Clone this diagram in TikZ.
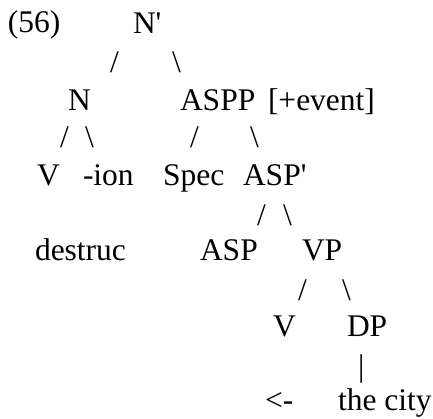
\documentclass[tikz,border=0pt]{standalone}
\usepackage{fontspec}
\setmainfont{Liberation Serif}[Ligatures=TeXOff]
\begin{document}
\begin{tikzpicture}[x=1pt,y=-1pt,
  lab/.style={anchor=base west,inner sep=0pt,outer sep=0pt,font=\fontsize{31.5}{36}\selectfont}]
\useasboundingbox (0,0) rectangle (433,418);
% row 1
\node[lab] (ex) at (8,32) {(56)};
\node[lab] (nbar) at (133,33) {N'};
\node[lab] (s1l) at (110,72) {/};
\node[lab] (s1r) at (172,72) {\textbackslash};
% row 2
\node[lab] (n) at (68,110) {N};
\node[lab] (aspp) at (180,110) {ASPP};
\node[lab] (feat) at (268,110) {[+event]};
\node[lab] (s2a) at (60,147) {/};
\node[lab] (s2b) at (85,147) {\textbackslash};
\node[lab] (s2c) at (190,147) {/};
\node[lab] (s2d) at (250,147) {\textbackslash};
% row 3
\node[lab] (v1) at (37,185) {V};
\node[lab] (ion) at (83,185) {-ion};
\node[lab] (spec) at (163,185) {Spec};
\node[lab] (aspbar) at (243,185) {ASP'};
\node[lab] (s3a) at (257,225) {/};
\node[lab] (s3b) at (283,225) {\textbackslash};
% row 4
\node[lab] (destr) at (35,260) {destruc};
\node[lab] (asp) at (200,260) {ASP};
\node[lab] (vp) at (302,260) {VP};
\node[lab] (s4a) at (298,300) {/};
\node[lab] (s4b) at (342,300) {\textbackslash};
% row 5
\node[lab] (v2) at (273,336) {V};
\node[lab] (dp) at (347,336) {DP};
\node[lab] (bar) at (358,376) {|};
% row 6
\node[lab] (arr) at (265,410) {<-};
\node[lab] (city) at (338,410) {the city};
\end{tikzpicture}
\end{document}
